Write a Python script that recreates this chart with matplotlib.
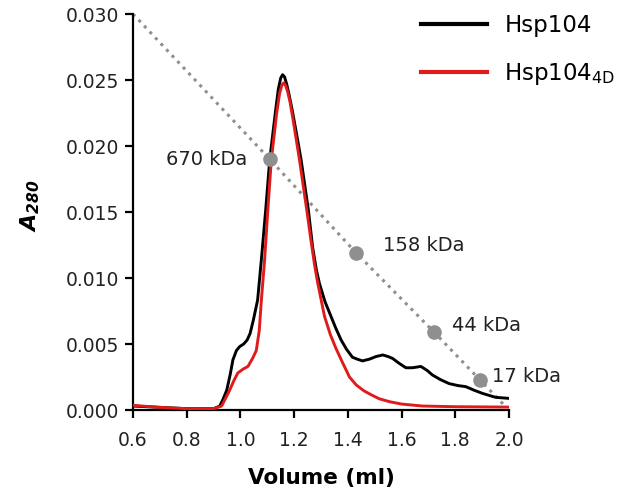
import matplotlib
matplotlib.use('Agg')
import matplotlib.pyplot as plt

plt.rcParams['font.family'] = ['DejaVu Sans']
plt.rcParams['mathtext.fontset'] = 'dejavusans'

# elution profiles (volume in ml, A280)
vol_wt = [0.60, 0.70, 0.80, 0.90, 0.923, 0.935, 0.949, 0.962, 0.972, 0.985,
          0.997, 1.012, 1.025, 1.036, 1.048, 1.064, 1.078, 1.094, 1.109, 1.131,
          1.141, 1.150, 1.157, 1.164, 1.172, 1.180, 1.193, 1.210, 1.226, 1.253,
          1.269, 1.283, 1.294, 1.315, 1.337, 1.355, 1.375, 1.395, 1.417, 1.435,
          1.455, 1.480, 1.505, 1.530, 1.550, 1.567, 1.590, 1.616, 1.640, 1.672,
          1.695, 1.715, 1.745, 1.777, 1.810, 1.839, 1.870, 1.901, 1.950, 2.000]
abs_wt = [0.00030, 0.00020, 0.00010, 0.00010, 0.00030, 0.00080, 0.00150, 0.00270, 0.00380, 0.00450,
          0.00480, 0.00500, 0.00530, 0.00580, 0.00680, 0.00833, 0.01140, 0.01515, 0.01894, 0.02270,
          0.02430, 0.02515, 0.02540, 0.02525, 0.02470, 0.02400, 0.02270, 0.02080, 0.01894, 0.01515,
          0.01230, 0.01060, 0.00960, 0.00820, 0.00710, 0.00620, 0.00530, 0.00460, 0.00400, 0.00385,
          0.00372, 0.00385, 0.00405, 0.00417, 0.00405, 0.00390, 0.00355, 0.00320, 0.00320, 0.00330,
          0.00300, 0.00265, 0.00230, 0.00200, 0.00185, 0.00177, 0.00150, 0.00126, 0.00096, 0.00088]

vol_4d = [0.60, 0.70, 0.80, 0.90, 0.930, 0.945, 0.960, 0.975, 0.990, 1.010,
          1.028, 1.045, 1.059, 1.070, 1.078, 1.090, 1.102, 1.115, 1.135, 1.146,
          1.154, 1.161, 1.168, 1.176, 1.185, 1.196, 1.220, 1.247, 1.263, 1.276,
          1.287, 1.313, 1.335, 1.355, 1.380, 1.406, 1.431, 1.460, 1.492, 1.517,
          1.555, 1.600, 1.678, 1.800, 2.000]
abs_4d = [0.00035, 0.00020, 0.00010, 0.00010, 0.00030, 0.00090, 0.00150, 0.00220, 0.00280, 0.00310,
          0.00330, 0.00390, 0.00450, 0.00600, 0.00833, 0.01136, 0.01515, 0.01894, 0.02250, 0.02400,
          0.02460, 0.02478, 0.02460, 0.02410, 0.02330, 0.02200, 0.01894, 0.01515, 0.01280, 0.01100,
          0.00970, 0.00710, 0.00570, 0.00470, 0.00360, 0.00250, 0.00190, 0.00145, 0.00110, 0.00085,
          0.00063, 0.00045, 0.00030, 0.00025, 0.00022]

# calibration standards
std_labels = ['670 kDa', '158 kDa', '44 kDa', '17 kDa']
std_vol = [1.109, 1.431, 1.721, 1.891]
std_abs = [0.0190, 0.0119, 0.0059, 0.0023]
line_vol = [0.6] + std_vol + [1.99]
line_abs = [0.0300] + std_abs + [0.0002]

fig = plt.figure(figsize=(6.28, 4.99), dpi=100)
ax = fig.add_axes([133 / 628, 1 - 410 / 499, 376 / 628, 396 / 499])

ax.plot(line_vol, line_abs, ':', color='#8f8f8f', lw=2.2, zorder=1)
ax.plot(std_vol, std_abs, 'o', color='#8f8f8f', ms=9.5, zorder=4)

ax.plot(vol_wt, abs_wt, color='black', lw=2.1, label='Hsp104', zorder=3)
ax.plot(vol_4d, abs_4d, color='#e01b1b', lw=2.1, label=r'Hsp104$_{\mathregular{4D}}$', zorder=3)

# label offsets in points from each standard
offsets = [(-16, 0), (19, 5), (13, 5), (9, 2)]
aligns = ['right', 'left', 'left', 'left']
for lab, x, y, off, ha in zip(std_labels, std_vol, std_abs, offsets, aligns):
    ax.annotate(lab, (x, y), xytext=off, textcoords='offset points',
                ha=ha, va='center', fontsize=14, color='#222222')

ax.set_xlim(0.6, 2.0)
ax.set_ylim(0, 0.030)
ax.set_xticks([0.6, 0.8, 1.0, 1.2, 1.4, 1.6, 1.8, 2.0])
ax.set_yticks([0.0, 0.005, 0.010, 0.015, 0.020, 0.025, 0.030])
ax.set_yticklabels(['0.000', '0.005', '0.010', '0.015', '0.020', '0.025', '0.030'])
ax.spines['top'].set_visible(False)
ax.spines['right'].set_visible(False)
for s in ['left', 'bottom']:
    ax.spines[s].set_linewidth(1.6)
ax.tick_params(width=1.6, length=6, labelsize=13.5, labelcolor='#222222')
ax.tick_params(axis='x', pad=9)
ax.tick_params(axis='y', pad=4)

ax.set_xlabel('Volume (ml)', fontsize=15.5, fontweight='bold', labelpad=13)
fig.text(30 / 628, 1 - 206 / 499, r'$\mathregular{A_{280}}$', rotation=90,
         fontsize=16, fontweight='bold', style='italic', ha='center', va='center')

leg = fig.legend(loc='upper left', bbox_to_anchor=(400 / 628, 1 + 7 / 499), frameon=False,
                 fontsize=16.5, handlelength=2.9, handletextpad=0.75, labelspacing=1.07,
                 borderpad=0.4)
for h in leg.legend_handles:
    h.set_linewidth(3)

fig.savefig('out.png', dpi=100)
